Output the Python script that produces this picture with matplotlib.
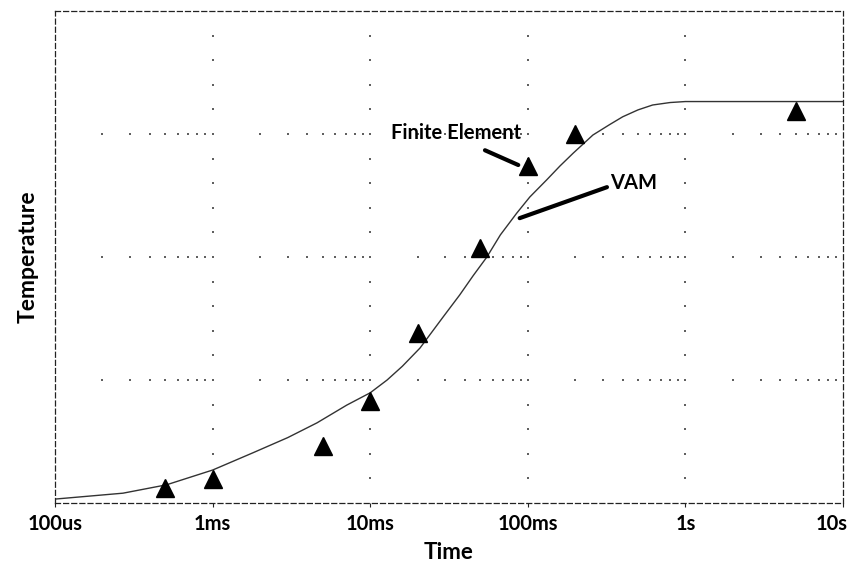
import numpy as np
import matplotlib
matplotlib.use("Agg")
import matplotlib.pyplot as plt
from matplotlib.transforms import ScaledTranslation

plt.rcParams['font.family'] = ['Lato', 'DejaVu Sans']

# VAM model response (time in seconds, temperature in relative units)
vam_time = [1e-4, 2.7e-4, 5.1e-4, 1.0e-3, 1.8e-3, 3.0e-3, 4.6e-3, 7.1e-3, 1.0e-2, 1.28e-2,
            1.6e-2, 2.07e-2, 2.9e-2, 3.7e-2, 4.5e-2, 5.5e-2, 6.7e-2, 8.5e-2, 0.103,
            0.132, 0.16, 0.194, 0.259, 0.33, 0.40, 0.50, 0.62, 0.80, 1.0, 10.0]
vam_temp = [0.8, 2.0, 3.7, 6.7, 10.2, 13.3, 16.3, 19.9, 22.4, 25.0,
            27.8, 31.5, 37.8, 42.3, 46.2, 50.0, 54.5, 58.9, 62.2,
            65.7, 68.5, 71.1, 74.8, 76.9, 78.5, 79.9, 80.9, 81.4, 81.6, 81.6]

# Finite element results
fe_time = [5e-4, 1e-3, 5e-3, 1e-2, 2e-2, 5e-2, 0.1, 0.2, 5.0]
fe_temp = [3.05, 4.9, 11.6, 20.7, 34.6, 51.8, 68.5, 75.0, 79.7]

tick_pos = [1e-4, 1e-3, 1e-2, 1e-1, 1, 10]
tick_labels = ['100us', '1ms', '10ms', '100ms', '1s', '10s']

y_min, y_max = 0, 100
y_grid = [25, 50, 75]

fig = plt.figure(figsize=(8.54, 5.65), dpi=100)
ax = fig.add_axes([0.0644, 0.1097, 0.9227, 0.8708])
ax.set_xscale('log')
ax.set_xlim(1e-4, 10)
ax.set_ylim(y_min, y_max)

# dotted grid built from dots
dot_kw = dict(s=1.5, c='#606060', marker='s', linewidths=0, zorder=1)
dec_x = tick_pos[1:-1]
ys = np.arange(5, 100, 5)
for xv in dec_x:
    ax.scatter([xv] * len(ys), ys, **dot_kw)
minor_x = [m * 10.0 ** e for e in range(-4, 1) for m in range(2, 10)]
for yv in y_grid:
    ax.scatter(minor_x + dec_x, [yv] * (len(minor_x) + len(dec_x)), **dot_kw)

ax.plot(vam_time, vam_temp, color='#333333', lw=1.0, zorder=2)
ax.plot(fe_time, fe_temp, linestyle='none', marker='^', markersize=13,
        color='black', zorder=3)

# frame
for sp in ax.spines.values():
    sp.set_linestyle((0, (4, 2.5)))
    sp.set_linewidth(0.9)
    sp.set_color('#222222')

ax.set_yticks([])
ax.set_xticks(tick_pos)
ax.set_xticklabels(tick_labels, fontsize=14.5, fontweight='bold')
ax.xaxis.set_minor_locator(matplotlib.ticker.NullLocator())
ax.tick_params(axis='x', direction='out', length=3, width=0.8, color='#222222', pad=5)
last = ax.get_xticklabels()[-1]
last.set_horizontalalignment('right')
last.set_transform(last.get_transform() + ScaledTranslation(0.05, 0, fig.dpi_scale_trans))

ax.set_xlabel('Time', fontsize=16, fontweight='bold', labelpad=6)
ax.set_ylabel('Temperature', fontsize=16.5, fontweight='bold', labelpad=12)

ax.text(0.035, 75.2, 'Finite Element', fontsize=14.5, fontweight='bold',
        ha='center', va='center')
ax.annotate('', xy=(0.087, 68.7), xytext=(0.0535, 71.7),
            arrowprops=dict(arrowstyle='-', lw=3, color='black', shrinkA=0, shrinkB=0))
ax.text(0.47, 65.0, 'VAM', fontsize=14.5, fontweight='bold', ha='center', va='center')
ax.annotate('', xy=(0.0888, 57.9), xytext=(0.318, 64.2),
            arrowprops=dict(arrowstyle='-', lw=3, color='black', shrinkA=0, shrinkB=0))

fig.savefig('out.png', dpi=100)
